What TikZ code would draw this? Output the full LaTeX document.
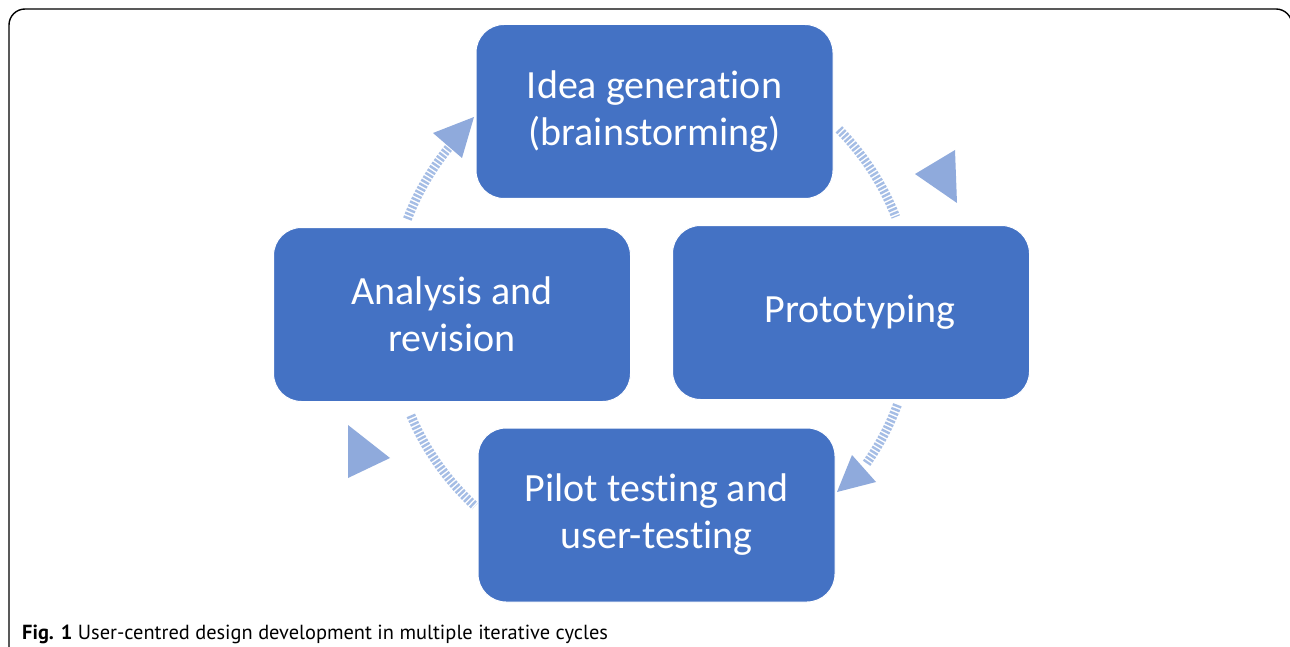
\documentclass[tikz,border=0pt]{standalone}
\usepackage{fontspec}
\setmainfont[Ligatures={NoCommon,NoRare,NoContextual}]{Carlito}
\newfontfamily\capfont{PT Sans}
\definecolor{boxblue}{HTML}{4472C4}
\definecolor{arrowblue}{HTML}{8FAADC}
\definecolor{stripeblue}{HTML}{A5BDE5}
\tikzset{
  stagebox/.style={rectangle, rounded corners=28pt, fill=boxblue, draw=white, line width=1pt,
    minimum width=357pt, minimum height=174pt, text=white, align=center,
    font=\fontsize{40}{47}\selectfont, inner sep=0pt},
  stripearc/.style={stripeblue, line width=9pt, dash pattern=on 2.4pt off 1.6pt},
  headtri/.style={fill=arrowblue, draw=none},
}
\begin{document}
\begin{tikzpicture}[x=1pt,y=1pt]
\useasboundingbox (0,0) rectangle (1290,-647);
\clip (0,0) rectangle (1290,-647);
\fill[white] (0,0) rectangle (1290,-647);
% frame
\draw[black, line width=1.4pt, rounded corners=16pt] (9,-680) -- (9,-9) -- (1292,-9) -- (1292,-680);
% boxes
\node[stagebox] (idea) at (654.5,-111.5) {Idea generation\\(brainstorming)};
\node[stagebox, text width=357pt, align=center] (proto) at (851,-312.5) {\hspace*{18pt}Prototyping};
\node[stagebox] (analysis) at (452,-314.5) {Analysis and\\revision};
\node[stagebox] (pilot) at (656.5,-515) {Pilot testing and\\user-testing};
% circle centre
\coordinate (c) at (652,-313);
% striped arcs
\draw[stripearc] (c) ++(159:262) arc[start angle=159, end angle=138, radius=262];
\draw[stripearc] (c) ++(44.5:262) arc[start angle=44.5, end angle=21.5, radius=262];
\draw[stripearc] (c) ++(-20.5:262) arc[start angle=-20.5, end angle=-35, radius=262];
\draw[stripearc] (c) ++(203:262) arc[start angle=203, end angle=227.5, radius=262];
% arrow heads
\fill[headtri] (433,-133) -- (474,-117) -- (462,-158) -- cycle;
\fill[headtri] (915,-174) -- (955,-150) -- (957,-203) -- cycle;
\fill[headtri] (852,-455) -- (876,-482) -- (837,-492) -- cycle;
\fill[headtri] (348,-425) -- (390,-458) -- (348,-478) -- cycle;
% caption
\node[anchor=base west, inner sep=0pt, font=\capfont\fontsize{20.4}{24}\selectfont] (caption) at (22,-639) {\textbf{Fig. 1} User-centred design development in multiple iterative cycles};
\end{tikzpicture}
\end{document}
